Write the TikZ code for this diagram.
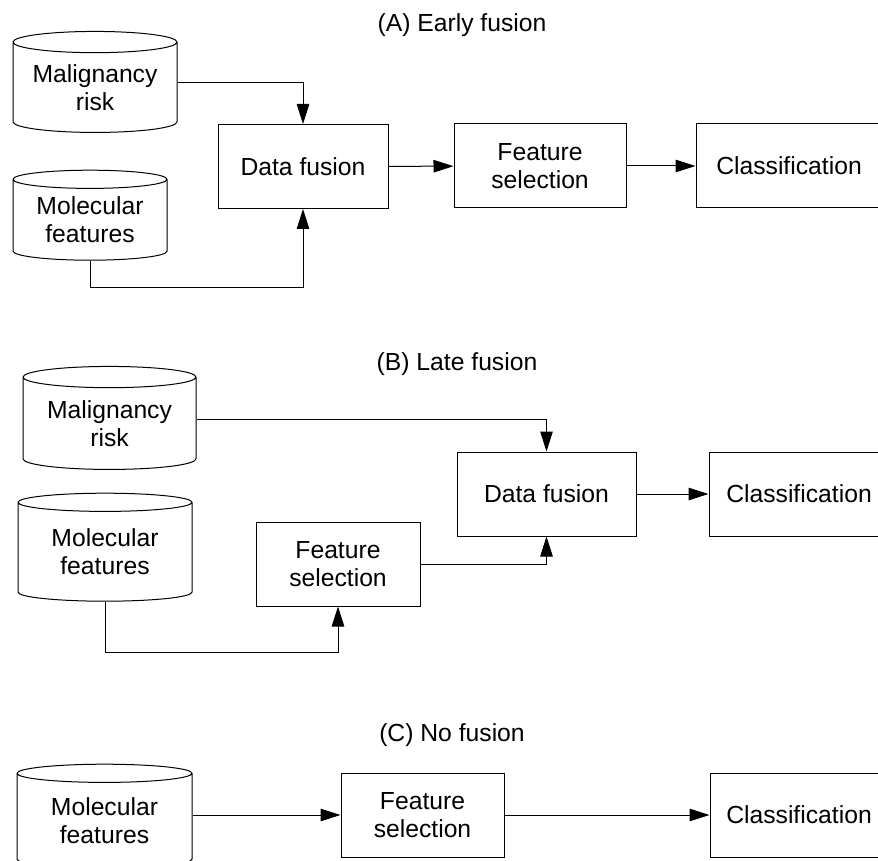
\documentclass[tikz,border=0pt]{standalone}
\usepackage{fontspec}
\setmainfont{Liberation Sans}
\usetikzlibrary{shapes.geometric, arrows.meta}

\tikzset{
	block/.style = {draw, align = center, inner sep = 0pt, minimum height = 84pt},
	store/.style = {draw, cylinder, shape border rotate = 90, aspect = 0.17, align = center, inner sep = 0pt},
	flow/.style = {-{Triangle[length = 20pt, width = 12.5pt]}}
}

\begin{document}
\begin{tikzpicture}[x = 1pt, y = -1pt, line width = 1pt,
	every node/.style = {font = \fontsize{24.7}{28}\selectfont}]

	% Page

	\useasboundingbox (0, 0) rectangle (878, 861);

	% (A) Early fusion

	\node (titA) at (462, 25) {(A) Early fusion};
	\node [store, minimum width = 164pt, minimum height = 101pt] (riskA) at (95, 87.5) {Malignancy\\risk};
	\node [store, minimum width = 154pt, minimum height = 90pt] (molA) at (90, 220) {Molecular\\features};
	\node [block, minimum width = 170pt] (fusA) at (303, 166.5) {Data fusion};
	\node [block, minimum width = 172pt] (selA) at (540, 166) {Feature\\selection};
	\node [block, minimum width = 186pt] (clsA) at (789, 166) {Classification};

	\draw [flow] ([yshift = 4.5pt] riskA.east) -| (fusA.north);
	\draw [flow] (molA.south) -- ++(0, 27) -| (fusA.south);
	\draw [flow] (fusA) -- (selA);
	\draw [flow] (selA) -- (clsA);

	% (B) Late fusion

	\node (titB) at (457, 364) {(B) Late fusion};
	\node [store, minimum width = 173pt, minimum height = 103pt] (riskB) at (109.5, 423.5) {Malignancy\\risk};
	\node [store, minimum width = 174pt, minimum height = 108pt] (molB) at (105, 552) {Molecular\\features};
	\node [block, minimum width = 164pt] (selB) at (338, 564) {Feature\\selection};
	\node [block, minimum width = 179pt] (fusB) at (546.5, 494) {Data fusion};
	\node [block, minimum width = 180pt] (clsB) at (799, 494) {Classification};

	\draw [flow] ([yshift = 4.5pt] riskB.east) -| (fusB.north);
	\draw [flow] (molB.south) -- ++(0, 51) -| (selB.south);
	\draw [flow] (selB.east) -| (fusB.south);
	\draw [flow] (fusB) -- (clsB);

	% (C) No fusion

	\node (titC) at (452, 735) {(C) No fusion};
	\node [store, minimum width = 175pt, minimum height = 104pt] (molC) at (104.5, 821) {Molecular\\features};
	\node [block, minimum width = 163pt] (selC) at (422.5, 815) {Feature\\selection};
	\node [block, minimum width = 178pt] (clsC) at (799, 815) {Classification};

	\draw [flow] (molC.east |- selC) -- (selC);
	\draw [flow] (selC) -- (clsC);

\end{tikzpicture}
\end{document}
